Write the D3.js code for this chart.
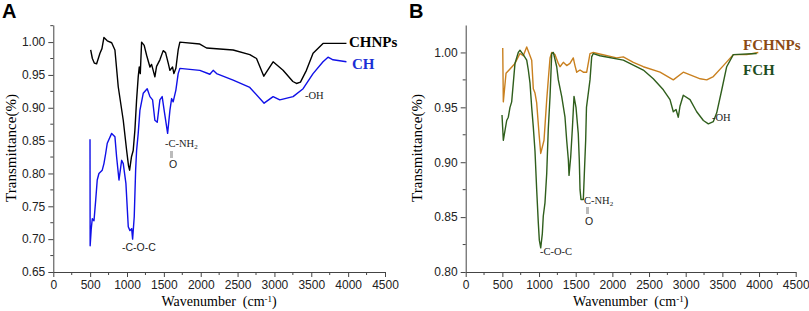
<!DOCTYPE html>
<html>
<head>
<meta charset="utf-8">
<script src="https://cdn.jsdelivr.net/npm/d3@7"></script>
<style>
  body { margin: 0; background: #fff; }
  svg { display: block; }
  .tick text { font-family: "Liberation Sans", Arial, sans-serif; font-size: 12px; fill: #222; }
</style>
</head>
<body>
<div id="chart"></div>
<script>
// panel A spectra: [wavenumber, transmittance]
const chnps = [[507,0.988],[530,0.975],[556,0.968],[588,0.967],[633,0.983],[660,0.99],[687,1.007],[732,1.002],[792,0.999],[836,0.988],[881,0.932],[949,0.881],[995,0.835],[1020,0.812],[1035,0.805],[1060,0.825],[1084,0.835],[1107,0.866],[1130,0.912],[1152,0.947],[1166,0.962],[1180,0.952],[1198,1.0],[1233,0.995],[1266,0.98],[1311,0.962],[1333,0.966],[1355,0.957],[1378,0.947],[1401,0.963],[1446,0.973],[1491,0.987],[1523,0.984],[1559,0.968],[1582,0.957],[1618,0.962],[1636,0.952],[1663,0.96],[1694,0.988],[1717,1.0],[1988,0.997],[2079,0.991],[2440,0.988],[2666,0.981],[2757,0.975],[2856,0.948],[2982,0.97],[3117,0.957],[3250,0.94],[3299,0.937],[3353,0.939],[3434,0.957],[3524,0.983],[3659,0.998],[3977,0.998]];
const ch = [[498,0.852],[500,0.69],[515,0.716],[529,0.731],[552,0.728],[575,0.759],[596,0.79],[619,0.80],[664,0.805],[687,0.815],[710,0.83],[732,0.846],[792,0.861],[836,0.856],[859,0.825],[891,0.79],[927,0.82],[949,0.815],[985,0.785],[1017,0.719],[1040,0.713],[1063,0.716],[1076,0.70],[1098,0.734],[1117,0.805],[1130,0.835],[1152,0.861],[1175,0.896],[1220,0.922],[1274,0.929],[1311,0.917],[1347,0.912],[1378,0.881],[1410,0.878],[1446,0.912],[1477,0.917],[1504,0.896],[1551,0.861],[1582,0.896],[1605,0.914],[1626,0.909],[1663,0.927],[1694,0.952],[1717,0.96],[1988,0.957],[2124,0.951],[2169,0.957],[2215,0.952],[2440,0.942],[2666,0.931],[2860,0.907],[2982,0.917],[3073,0.912],[3253,0.917],[3389,0.929],[3524,0.952],[3659,0.97],[3727,0.977],[3795,0.973],[3977,0.97]];

// panel B spectra
const fchnps = [[505,1.004],[513,0.955],[550,0.981],[604,0.985],[672,0.99],[740,0.999],[785,0.997],[832,1.005],[900,0.993],[922,0.967],[945,0.963],[968,0.954],[1000,0.926],[1023,0.908],[1068,0.92],[1105,0.957],[1126,0.975],[1150,0.995],[1173,1.0],[1218,0.998],[1263,0.99],[1286,0.987],[1331,0.991],[1377,0.988],[1422,0.99],[1467,0.995],[1490,0.988],[1514,0.982],[1559,0.984],[1604,0.982],[1650,0.982],[1695,0.999],[1740,1.0],[2059,0.995],[2149,0.996],[2286,0.991],[2422,0.987],[2650,0.982],[2831,0.975],[2967,0.982],[3198,0.976],[3287,0.975],[3377,0.978],[3514,0.988],[3649,0.998],[3832,0.998],[3990,1.0]];
const fch = [[495,0.943],[513,0.92],[559,0.938],[581,0.941],[604,0.95],[627,0.955],[649,0.972],[672,0.99],[717,1.0],[740,1.002],[785,0.998],[832,0.993],[854,0.984],[877,0.972],[900,0.95],[922,0.932],[945,0.91],[968,0.875],[990,0.845],[1004,0.829],[1023,0.822],[1045,0.835],[1058,0.851],[1081,0.863],[1105,0.89],[1126,0.93],[1150,0.96],[1173,0.999],[1195,1.0],[1241,0.987],[1263,0.975],[1309,0.96],[1354,0.941],[1377,0.92],[1400,0.902],[1409,0.888],[1432,0.905],[1454,0.93],[1477,0.96],[1504,0.95],[1535,0.926],[1549,0.902],[1559,0.875],[1572,0.866],[1604,0.866],[1618,0.89],[1636,0.92],[1647,0.95],[1672,0.963],[1695,0.975],[1718,0.996],[1740,0.999],[1831,0.997],[2149,0.993],[2422,0.984],[2558,0.976],[2695,0.966],[2786,0.957],[2831,0.946],[2868,0.948],[2899,0.941],[2922,0.951],[2967,0.961],[3059,0.957],[3150,0.946],[3241,0.938],[3309,0.935],[3377,0.937],[3423,0.945],[3492,0.966],[3559,0.987],[3649,0.998],[3968,0.999]];

const xTicks = [0, 500, 1000, 1500, 2000, 2500, 3000, 3500, 4000, 4500];
const yTicksA = [0.65, 0.70, 0.75, 0.80, 0.85, 0.90, 0.95, 1.00];
const yTicksB = [0.80, 0.85, 0.90, 0.95, 1.00];

const width = 809, height = 311;
const svg = d3.select("#chart").append("svg")
    .attr("width", width)
    .attr("height", height);

const serif = '"Liberation Serif", "Times New Roman", serif';
const sans = '"Liberation Sans", Arial, sans-serif';

function drawPanel(opt) {
    const x = d3.scaleLinear().domain([0, 4500]).range([opt.left, opt.right]);
    const y = d3.scaleLinear().domain(opt.yDomain).range([opt.bottom, opt.top]);

    const g = svg.append("g");

    // minor ticks
    const xMinor = d3.range(250, 4500, 500);
    g.append("g").selectAll("line").data(xMinor).enter().append("line")
        .attr("x1", d => x(d)).attr("x2", d => x(d))
        .attr("y1", opt.bottom).attr("y2", opt.bottom + 3)
        .attr("stroke", "#444");
    const yMinor = d3.range(opt.yDomain[0] + 0.025, opt.yDomain[1], 0.05);
    g.append("g").selectAll("line").data(yMinor).enter().append("line")
        .attr("x1", opt.left - 3).attr("x2", opt.left)
        .attr("y1", d => y(d)).attr("y2", d => y(d))
        .attr("stroke", "#444");

    const xAxis = g.append("g")
        .attr("transform", `translate(0,${opt.bottom})`)
        .call(d3.axisBottom(x).tickValues(xTicks).tickSize(5).tickSizeOuter(0).tickFormat(d3.format("d")));
    xAxis.select(".domain").attr("stroke", "#444");
    xAxis.selectAll(".tick line").attr("stroke", "#444");

    const yAxis = g.append("g")
        .attr("transform", `translate(${opt.left},0)`)
        .call(d3.axisLeft(y).tickValues(opt.yTicks).tickSize(5).tickSizeOuter(0).tickFormat(d3.format(".2f")));
    yAxis.select(".domain").attr("stroke", "#444");
    yAxis.selectAll(".tick line").attr("stroke", "#444");

    const line = d3.line().x(d => x(d[0])).y(d => y(d[1]));
    opt.series.forEach(s => {
        g.append("path")
            .datum(s.data)
            .attr("d", line)
            .attr("fill", "none")
            .attr("stroke", s.color)
            .attr("stroke-width", 1.4)
            .attr("stroke-linejoin", "round");
    });

    // panel letter
    g.append("text")
        .attr("x", opt.letterX).attr("y", 18)
        .style("font-family", sans).style("font-weight", "bold").style("font-size", "20px")
        .text(opt.letter);

    // y title
    g.append("text")
        .attr("transform", `translate(${opt.yTitleX},148) rotate(-90)`)
        .attr("text-anchor", "middle")
        .style("font-family", serif).style("font-size", "15px")
        .text("Transmittance(%)");

    // x title
    const xt = g.append("text")
        .attr("x", (opt.left + opt.right) / 2).attr("y", 306)
        .attr("text-anchor", "middle")
        .style("font-family", serif).style("font-size", "14px");
    xt.append("tspan").text("Wavenumber\u00a0\u00a0(cm");
    xt.append("tspan").attr("dy", -4).style("font-size", "9px").text("-1");
    xt.append("tspan").attr("dy", 4).text(")");

    // legend labels
    opt.labels.forEach(l => {
        g.append("text")
            .attr("x", l.x).attr("y", l.y)
            .attr("fill", l.color)
            .style("font-family", serif).style("font-weight", "bold").style("font-size", "15px")
            .text(l.text);
    });

    // peak annotations
    opt.notes.forEach(n => {
        const t = g.append("text")
            .attr("x", n.x).attr("y", n.y)
            .attr("fill", "#222")
            .style("font-family", n.font || serif).style("font-size", "10.5px");
        if (n.sub) {
            t.append("tspan").text(n.text);
            t.append("tspan").attr("dy", 2).style("font-size", "7px").text(n.sub);
        } else {
            t.text(n.text);
        }
    });
    opt.bars.forEach(b => {
        g.append("rect")
            .attr("x", b.x).attr("y", b.y)
            .attr("width", 3).attr("height", 7)
            .attr("fill", "#bbb");
    });
}

drawPanel({
    letter: "A", letterX: 2,
    left: 53.3, right: 385, top: 25, bottom: 272,
    yDomain: [0.65, 1.026], yTicks: yTicksA, yTitleX: 16,
    series: [{data: chnps, color: "#000"}, {data: ch, color: "#1010e8"}],
    labels: [
        {text: "CHNPs", x: 349, y: 47, color: "#000"},
        {text: "CH", x: 352, y: 69, color: "#1a2fd6"}
    ],
    notes: [
        {text: "-OH", x: 305, y: 99},
        {text: "-C-NH", sub: "2", x: 165, y: 147},
        {text: "O", x: 169, y: 168, font: sans},
        {text: "-C-O-C", x: 122, y: 251, font: sans}
    ],
    bars: [{x: 170, y: 151}]
});

drawPanel({
    letter: "B", letterX: 409,
    left: 465.7, right: 795.7, top: 25, bottom: 272,
    yDomain: [0.80, 1.025], yTicks: yTicksB, yTitleX: 422,
    series: [{data: fchnps, color: "#c9801f"}, {data: fch, color: "#2f5e1c"}],
    labels: [
        {text: "FCHNPs", x: 743, y: 50, color: "#8b4a14"},
        {text: "FCH", x: 743, y: 75, color: "#1f4d22"}
    ],
    notes: [
        {text: "-OH", x: 712, y: 121},
        {text: "C-NH", sub: "2", x: 584, y: 204},
        {text: "O", x: 585, y: 225, font: sans},
        {text: "-C-O-C", x: 540, y: 255}
    ],
    bars: [{x: 586, y: 207}]
});
</script>
</body>
</html>
